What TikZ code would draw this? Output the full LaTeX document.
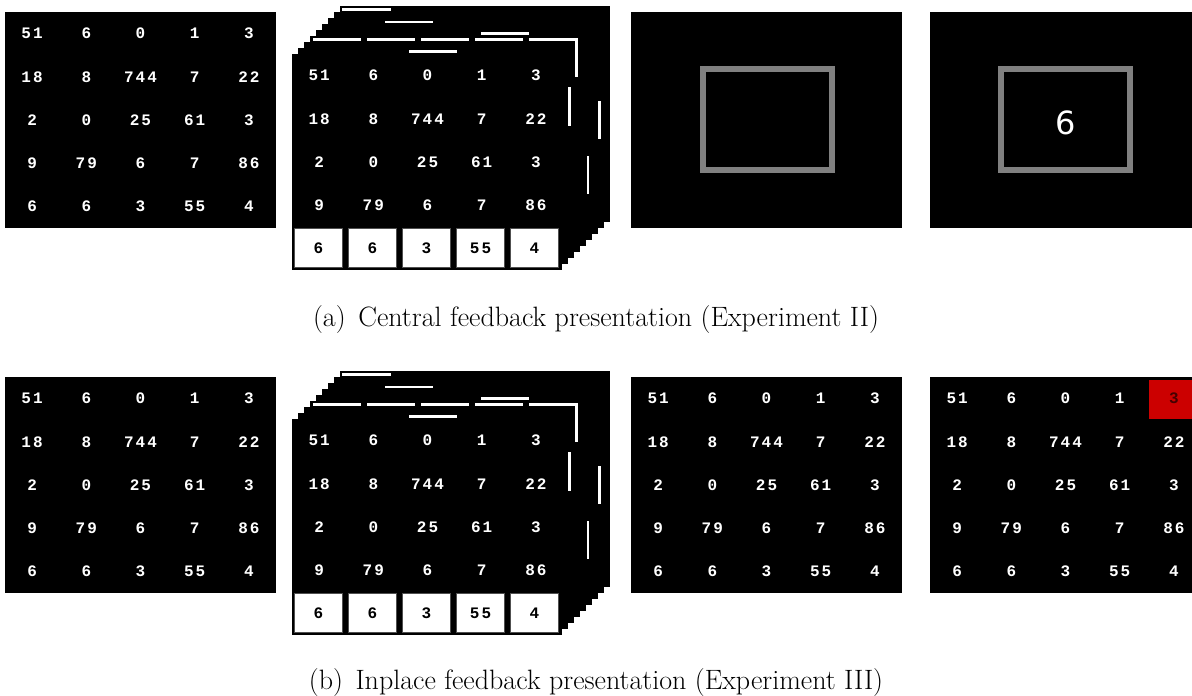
\documentclass[tikz,border=0pt]{standalone}
\usepackage{fontspec}
\newfontfamily\gridfont{Liberation Mono}
\newfontfamily\cuefont{DejaVu Sans}

\definecolor{framegray}{RGB}{128,128,128}
\definecolor{hitred}{RGB}{204,0,0}
\definecolor{hittext}{RGB}{70,0,0}
\definecolor{boxedge}{RGB}{80,80,80}

% digits of a number set with a little extra tracking
\makeatletter
\newcommand\tracked[1]{\edef\trk@list{#1}\def\trk@sep{}\expandafter\trk@loop\trk@list\relax}
\def\trk@loop#1{\ifx#1\relax\else\trk@sep#1\def\trk@sep{\kern2pt}\expandafter\trk@loop\fi}
\makeatother

% the 5x5 matrix of numbers
\def\gridvalues{{51,6,0,1,3},{18,8,744,7,22},{2,0,25,61,3},{9,79,6,7,86},{6,6,3,55,4}}

% cells whose digit is printed dark on the highlighted background
\expandafter\def\csname hl-b4-1-5\endcsname{}

% #1 name prefix, (#2,#3) top-left corner, #4 last row drawn as plain digits
\newcommand\numbers[4]{%
  \foreach [count=\j] \row in \gridvalues {%
    \ifnum\j>#4\relax\else
      \foreach [count=\i] \v in \row {%
        \node[digit] (#1-\j-\i) at ({#2+27.1+54.2*(\i-1)},{#3+21.6+43.2*(\j-1)})
          {\ifcsname hl-#1-\j-\i\endcsname\color{hittext}\fi\tracked{\v}};
      }%
    \fi
  }%
}

% stacked cards: #1 name prefix, (#2,#3) top-left corner of the front card
\newcommand\cardstack[3]{%
  \foreach \k in {8,7,...,0} {\fill (#2+6*\k,#3-6*\k) rectangle ++(270,216);}
  % edges of the answer boxes on the cards behind
  \foreach \ax/\ay/\bx/\by in {50/-46/99/-43, 93/-33.3/141/-30.7, 189/-21.7/237/-19,
      21/-15.7/69/-13, 75/-15.7/123/-13, 129/-15.7/177/-13, 183/-15.7/231/-13,
      237/-15.7/285.5/-13, 283/-15.7/285.5/23, 117/-4/165/-1.3,
      276/33.3/279/72, 306.3/46.7/309/85.3, 294.7/102/297/140.3}
    {\fill[white] (#2+\ax,#3+\ay) rectangle (#2+\bx,#3+\by);}
  \numbers{#1}{#2}{#3}{4}
  \foreach [count=\i] \v in {6,6,3,55,4} {%
    \node[cellbox] (#1-box-\i) at ({#2+26.5+54*(\i-1)},{#3+194}) {\tracked{\v}};
  }%
}

\begin{document}
\begin{tikzpicture}[x=1pt,y=-1pt,
  digit/.style={text=white,font=\gridfont\bfseries\fontsize{16}{16}\selectfont,inner sep=0pt},
  cellbox/.style={draw=boxedge,line width=0.8pt,fill=white,text=black,
    font=\gridfont\bfseries\fontsize{16}{16}\selectfont,
    minimum width=48.5pt,minimum height=39.5pt,inner sep=0pt},
  cueframe/.style={draw=framegray,line width=6pt},
  cuedigit/.style={text=white,font=\cuefont\fontsize{32}{32}\selectfont,inner sep=0pt},
  caption/.style={font=\fontsize{28}{32}\selectfont,inner sep=0pt}]

\clip (0,0) rectangle (1192,696);
\fill[white] (0,0) rectangle (1192,696);

% ---------- (a) central feedback ----------
\fill (5,12) rectangle ++(271,216);
\numbers{a1}{5}{12}{5}
\cardstack{a2}{292}{54}
\fill (631,12) rectangle ++(271,216);
\draw[cueframe] (703,69) rectangle (832,170);
\fill (930,12) rectangle ++(271,216);
\draw[cueframe] (1001,69) rectangle (1130,170);
\node[cuedigit] (a4-cue) at (1065.5,123) {6};
\node[caption] (capa) at (596,320) {(a)\hspace{0.45em}Central feedback presentation (Experiment II)};

% ---------- (b) in-place feedback ----------
\fill (5,377) rectangle ++(271,216);
\numbers{b1}{5}{377}{5}
\cardstack{b2}{292}{419}
\fill (631,377) rectangle ++(271,216);
\numbers{b3}{631}{377}{5}
\fill (930,377) rectangle ++(271,216);
\fill[hitred] (1149,379.5) rectangle (1199,419);
\numbers{b4}{930}{377}{5}
\node[caption] (capb) at (596,683) {(b)\hspace{0.45em}Inplace feedback presentation (Experiment III)};
\end{tikzpicture}
\end{document}
